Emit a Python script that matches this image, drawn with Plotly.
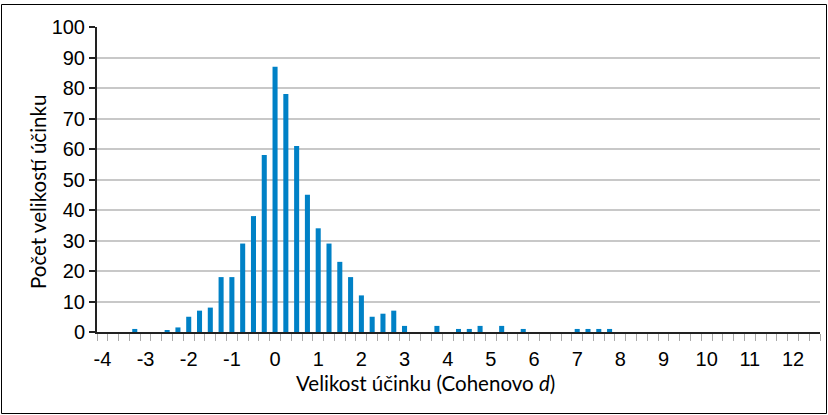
import plotly.graph_objects as go

# Effect size bins (Cohen's d) and counts
effect_size = [-3.25, -2.5, -2.25, -2.0, -1.75, -1.5, -1.25, -1.0, -0.75, -0.5, -0.25,
               0.0, 0.25, 0.5, 0.75, 1.0, 1.25, 1.5, 1.75, 2.0, 2.25, 2.5, 2.75, 3.0,
               3.75, 4.25, 4.5, 4.75, 5.25, 5.75, 7.0, 7.25, 7.5, 7.75]
counts = [1, 0.5, 1.5, 5, 7, 8, 18, 18, 29, 38, 58,
          87, 78, 61, 45, 34, 29, 23, 18, 12, 5, 6, 7, 2,
          2, 1, 1, 2, 2, 1, 1, 1, 1, 1]

x_tick_values = [-4, -3, -2, -1, 0, 1, 2, 3, 4, 5, 6, 7, 8, 9, 10, 11, 12]
x_tick_labels = [str(v) for v in x_tick_values]
y_tick_values = [0, 10, 20, 30, 40, 50, 60, 70, 80, 90, 100]

x_title = "Velikost účinku (Cohenovo <i>d</i>)"
y_title = "Počet velikostí účinku"

W, H = 828, 415
ML, MR, MT, MB = 97, 8, 27, 83
PW, PH = W - ML - MR, H - MT - MB

def px_to_paper_x(p):
    return (p - ML) / PW

def px_to_paper_y(q):
    return (H - MB - q) / PH

tick_font = dict(family="Liberation Sans, Arial, sans-serif", size=20, color="black")
title_font = dict(family="Lato, Open Sans, sans-serif", size=20.5, color="black")

fig = go.Figure()
fig.add_trace(go.Bar(
    x=effect_size, y=counts, width=0.117,
    marker=dict(color="#0081C6", line=dict(width=0)),
    hoverinfo="x+y",
))

fig.update_layout(
    width=W, height=H,
    margin=dict(l=ML, r=MR, t=MT, b=MB, pad=0),
    paper_bgcolor="white", plot_bgcolor="white",
    showlegend=False,
    xaxis=dict(
        range=[-4.125, 12.625],
        tickmode="array", tickvals=x_tick_values, ticktext=x_tick_labels,
        ticks="outside", ticklen=8, tickcolor="rgba(0,0,0,0)",
        tickfont=tick_font,
        showgrid=False, zeroline=False,
        showline=True, linecolor="#222222", linewidth=2,
        minor=dict(ticks="outside", tick0=-4.125, dtick=0.25, ticklen=7,
                   tickcolor="#aaaaaa", tickwidth=1, showgrid=False),
        fixedrange=True,
    ),
    yaxis=dict(
        range=[0, 100],
        tickmode="array", tickvals=y_tick_values,
        ticks="outside", ticklen=6, tickcolor="#222222", tickwidth=1.5,
        tickfont=tick_font,
        showgrid=True, gridcolor="#c8c8c8", gridwidth=1.5,
        zeroline=False,
        showline=True, linecolor="#222222", linewidth=2,
        fixedrange=True,
    ),
    annotations=[
        dict(text=x_title, xref="paper", yref="paper",
             x=px_to_paper_x(425), y=px_to_paper_y(383),
             xanchor="center", yanchor="middle", showarrow=False, font=title_font),
        dict(text=y_title, xref="paper", yref="paper",
             x=px_to_paper_x(38), y=px_to_paper_y(192), textangle=-90,
             xanchor="center", yanchor="middle", showarrow=False, font=title_font),
    ],
    shapes=[
        dict(type="rect", xref="paper", yref="paper",
             x0=px_to_paper_x(1.5), x1=px_to_paper_x(826.5),
             y0=px_to_paper_y(413.5), y1=px_to_paper_y(4.5),
             line=dict(color="black", width=1), fillcolor="rgba(0,0,0,0)",
             layer="below"),
    ],
)

fig.write_html(
    "out.html",
    config={"displayModeBar": False},
    post_script="document.body.style.margin='0px';document.body.style.overflow='hidden';",
)
